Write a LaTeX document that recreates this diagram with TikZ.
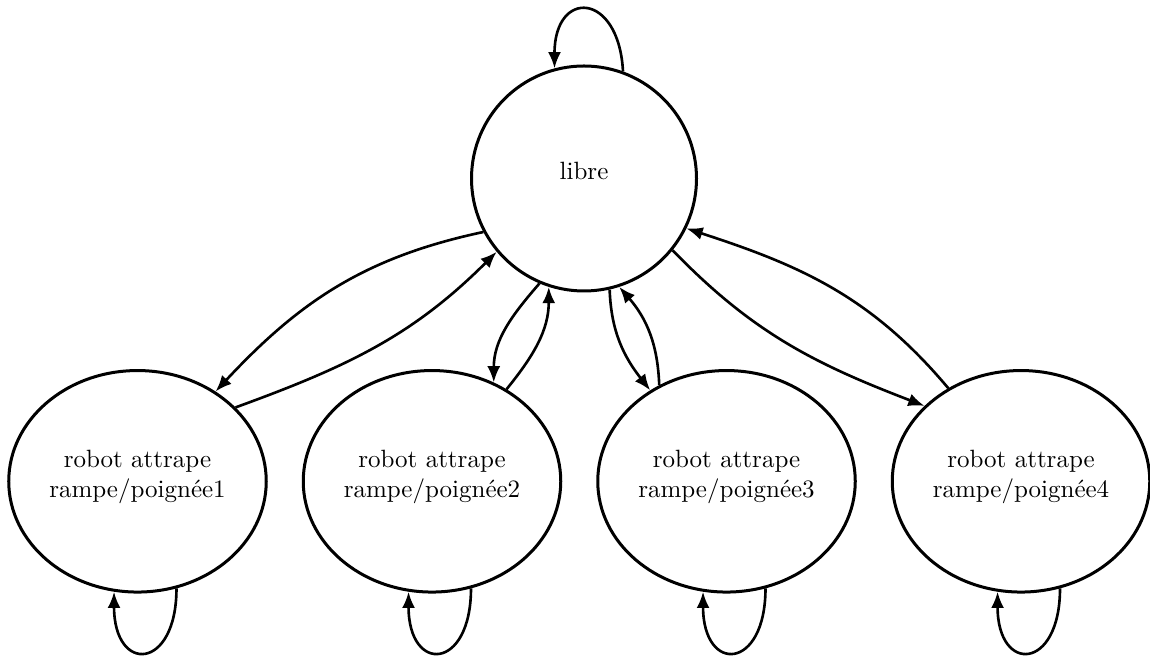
\documentclass[tikz,border=0pt]{standalone}
\usepackage{tikz}
\usetikzlibrary{arrows.meta, positioning, shapes.geometric}

\begin{document}
\begin{tikzpicture}[
        x=0.4pt, y=0.4pt,
        >={Latex[length=6.5pt,width=5.2pt]},
        node distance=13.6pt,
        lift/.style={execute at end node={\rule[-#1]{0pt}{#1}}},
        state/.style={circle, draw, line width=1.2pt, minimum size=90pt, inner sep=0pt, lift=5.8pt},
        grab/.style={ellipse, draw, line width=1.2pt, minimum width=103pt, minimum height=88.6pt,
                     inner sep=0pt, align=center, lift=6pt},
        trans/.style={->, line width=1.05pt}
    ]
        \useasboundingbox (-584,-478.5) rectangle (566,178.5);

        \node[state] (libre) at (0,0) {libre};
        \node[grab] (g1) at (-446.5,-302.8) {robot attrape\\rampe/poignée1};
        \node[grab, right=of g1] (g2) {robot attrape\\rampe/poignée2};
        \node[grab, right=of g2] (g3) {robot attrape\\rampe/poignée3};
        \node[grab, right=of g3] (g4) {robot attrape\\rampe/poignée4};

        % self loops
        \draw[trans] (libre.70) to[out=93, in=90, distance=32pt] (libre.105);
        \foreach \g in {g1,g2,g3,g4}
            \draw[trans] (\g.-70) to[out=-90, in=-90, distance=33pt] (\g.-102);

        % libre <-> grab states
        \draw[trans] (libre.208) to[out=192, in=47] (g1.49);
        \draw[trans] (g1.37) to[out=20, in=225] (libre.220);
        \draw[trans] (libre.247) to[out=229, in=90] (g2.58);
        \draw[trans] (g2.51) to[out=51, in=270] (libre.252);
        \draw[trans] (libre.283) to[out=272, in=128] (g3.130);
        \draw[trans] (g3.125) to[out=92, in=311] (libre.288);
        \draw[trans] (libre.321) to[out=314, in=159] (g4.142);
        \draw[trans] (g4.128) to[out=130, in=342] (libre.334);
    \end{tikzpicture}
\end{document}
